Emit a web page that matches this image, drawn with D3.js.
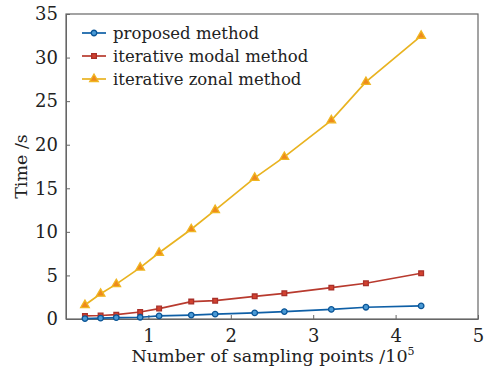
<!DOCTYPE html>
<html>
<head>
<meta charset="utf-8">
<script src="https://cdn.jsdelivr.net/npm/d3@7"></script>
<style>
  body { margin: 0; background: #fff; }
  text { font-family: "DejaVu Serif", "Liberation Serif", serif; fill: #222; }
</style>
</head>
<body>
<div id="chart"></div>
<script>
var samplePoints = [0.23, 0.42, 0.61, 0.90, 1.13, 1.52, 1.81, 2.29, 2.65, 3.22, 3.64, 4.31];
var proposedTime = [0.05, 0.1, 0.15, 0.2, 0.35, 0.45, 0.55, 0.7, 0.85, 1.1, 1.35, 1.5];
var modalTime = [0.35, 0.4, 0.5, 0.8, 1.2, 2.0, 2.1, 2.6, 2.95, 3.6, 4.1, 5.25];
var zonalTime = [1.6, 2.9, 4.0, 5.9, 7.6, 10.3, 12.5, 16.2, 18.6, 22.8, 27.2, 32.5];
var seriesNames = ['proposed method', 'iterative modal method', 'iterative zonal method'];
var xTicks = [1, 2, 3, 4, 5];
var yTicks = [0, 5, 10, 15, 20, 25, 30, 35];

var width = 484, height = 370;
var plotLeft = 66, plotRight = 478, plotTop = 14, plotBottom = 319;

var svg = d3.select('#chart').append('svg')
    .attr('width', width)
    .attr('height', height);

var x = d3.scaleLinear().domain([0, 5]).range([plotLeft, plotRight]);
var y = d3.scaleLinear().domain([0, 35]).range([plotBottom, plotTop]);

// frame
svg.append('rect')
    .attr('x', plotLeft).attr('y', plotTop)
    .attr('width', plotRight - plotLeft).attr('height', plotBottom - plotTop)
    .attr('fill', 'none').attr('stroke', '#666').attr('stroke-width', 1.2);

var xAxis = svg.append('g')
    .attr('transform', 'translate(0,' + plotBottom + ')')
    .call(d3.axisBottom(x).tickValues(xTicks).tickFormat(d3.format('d')).tickSizeInner(-4).tickSizeOuter(0).tickPadding(8));
var yAxis = svg.append('g')
    .attr('transform', 'translate(' + plotLeft + ',0)')
    .call(d3.axisLeft(y).tickValues(yTicks).tickFormat(d3.format('d')).tickSizeInner(-4).tickSizeOuter(0).tickPadding(8));

[xAxis, yAxis].forEach(function(a) {
    a.select('.domain').attr('stroke', '#666');
    a.selectAll('.tick line').attr('stroke', '#666');
    a.selectAll('.tick text')
        .style('font-family', '"DejaVu Serif", serif')
        .style('font-size', '18px')
        .attr('fill', '#222');
});
xAxis.selectAll('.tick text').attr('dy', '0.85em');

svg.append('text')
    .attr('x', (plotLeft + plotRight) / 2 + 1).attr('y', 362)
    .attr('text-anchor', 'middle')
    .style('font-size', '17.5px')
    .html('Number of sampling points /10<tspan dy="-7" font-size="11px">5</tspan>');

svg.append('text')
    .attr('transform', 'translate(27,' + ((plotTop + plotBottom) / 2) + ') rotate(-90)')
    .attr('text-anchor', 'middle')
    .style('font-size', '17.5px')
    .text('Time /s');

var series = [
    { name: seriesNames[0], values: proposedTime, line: '#0e5fa6', fill: '#4a9ad6', stroke: '#0b5596', shape: 'circle' },
    { name: seriesNames[1], values: modalTime, line: '#b83a2e', fill: '#d2412f', stroke: '#a8302a', shape: 'square' },
    { name: seriesNames[2], values: zonalTime, line: '#e9b320', fill: '#ee8a1c', stroke: '#f0b622', shape: 'triangle' }
];

var symbolType = { circle: d3.symbolCircle, square: d3.symbolSquare, triangle: d3.symbolTriangle };
var symbolSize = { circle: 24, square: 22, triangle: 32 };

var line = d3.line()
    .x(function(d) { return x(d[0]); })
    .y(function(d) { return y(d[1]); });

series.slice().reverse().forEach(function(s) {
    var pts = samplePoints.map(function(v, i) { return [v, s.values[i]]; });
    svg.append('path')
        .datum(pts)
        .attr('d', line)
        .attr('fill', 'none')
        .attr('stroke', s.line)
        .attr('stroke-width', 1.7);
    svg.append('g').selectAll('path')
        .data(pts)
        .enter()
        .append('path')
        .attr('transform', function(d) { return 'translate(' + x(d[0]) + ',' + y(d[1]) + ')'; })
        .attr('d', d3.symbol().type(symbolType[s.shape]).size(symbolSize[s.shape]))
        .attr('fill', s.fill)
        .attr('stroke', s.stroke)
        .attr('stroke-width', 1.3);
});

// legend
var legend = svg.append('g').attr('transform', 'translate(82,33)');
var rows = legend.selectAll('g')
    .data(series)
    .enter()
    .append('g')
    .attr('transform', function(d, i) { return 'translate(0,' + (i * 23) + ')'; });
rows.append('line')
    .attr('x1', 0).attr('x2', 24)
    .attr('stroke', function(d) { return d.line; })
    .attr('stroke-width', 1.7);
rows.append('path')
    .attr('transform', 'translate(12,0)')
    .attr('d', function(d) { return d3.symbol().type(symbolType[d.shape]).size(symbolSize[d.shape])(); })
    .attr('fill', function(d) { return d.fill; })
    .attr('stroke', function(d) { return d.stroke; })
    .attr('stroke-width', 1.3);
rows.append('text')
    .attr('x', 31).attr('dy', '0.35em')
    .style('font-size', '16.5px')
    .text(function(d) { return d.name; });
</script>
</body>
</html>
